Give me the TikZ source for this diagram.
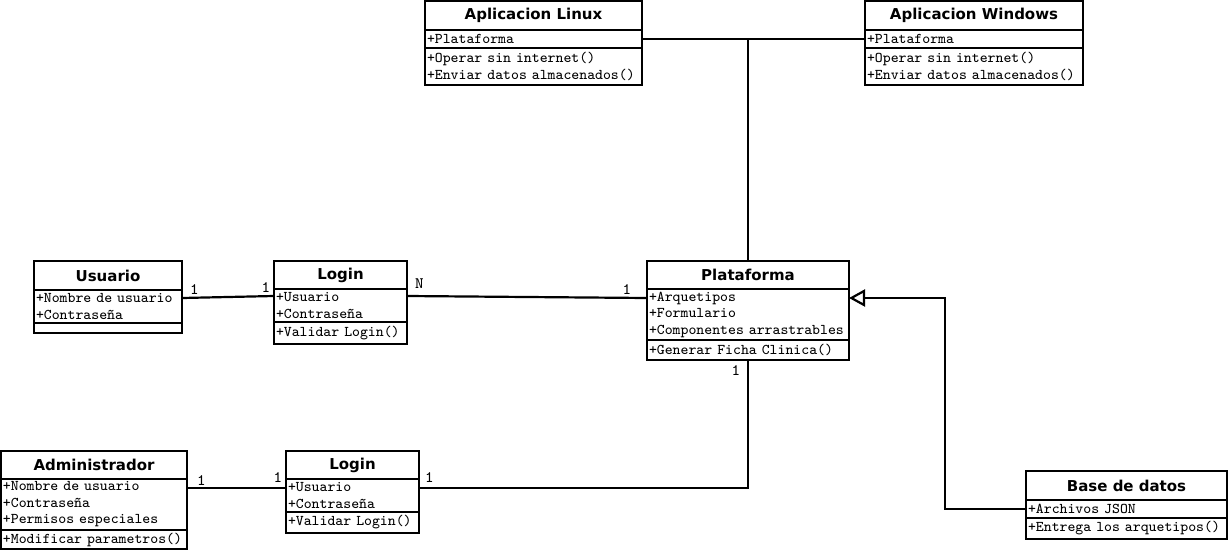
\documentclass[tikz,border=0pt]{standalone}
\usepackage{fontspec}
\newfontfamily\classfont{DejaVu Sans}
\usetikzlibrary{positioning,arrows.meta}

\begin{document}
\begin{tikzpicture}[x=0.5pt, y=-0.5pt,
  every node/.style={outer sep=0pt},
  classname/.style={draw, line width=1.1pt, anchor=north, inner sep=0pt,
    minimum height=14.5pt, font=\classfont\bfseries\fontsize{7.5}{9}\selectfont},
  member/.style={draw, line width=1.1pt, align=left, inner xsep=1pt,
    inner ysep=0.5pt, font=\ttfamily\fontsize{7.45}{8.25}\selectfont},
  conn/.style={line width=1.1pt},
  mult/.style={font=\ttfamily\fontsize{8}{9}\selectfont, inner sep=1pt}]
\useasboundingbox (0,0) rectangle (1229,551);

% clases
\node[classname, minimum width=108.5pt] (linux) at (533.5,1) {Aplicacion Linux};
\node[member, text width=106.5pt, minimum height=9pt, below=0pt of linux] (linuxA) {+Plataforma};
\node[member, text width=106.5pt, minimum height=18.5pt, below=0pt of linuxA] (linuxM)
  {+Operar sin internet()\\+Enviar datos almacenados()};

\node[classname, minimum width=109pt] (windows) at (974,1) {Aplicacion Windows};
\node[member, text width=107pt, minimum height=9pt, below=0pt of windows] (windowsA) {+Plataforma};
\node[member, text width=107pt, minimum height=18.5pt, below=0pt of windowsA] (windowsM)
  {+Operar sin internet()\\+Enviar datos almacenados()};

\node[classname, minimum width=74pt] (usu) at (108,261) {Usuario};
\node[member, text width=72pt, minimum height=16.5pt, below=0pt of usu] (usuA)
  {+Nombre de usuario\\+Contraseña};
\node[member, text width=72pt, minimum height=5pt, below=0pt of usuA] (usuM) {};

\node[classname, minimum width=66.5pt, minimum height=14pt] (login1) at (340.5,261) {Login};
\node[member, text width=64.5pt, minimum height=16.5pt, below=0pt of login1] (login1A)
  {+Usuario\\+Contraseña};
\node[member, text width=64.5pt, minimum height=11pt, below=0pt of login1A] (login1M) {+Validar Login()};

\node[classname, minimum width=101pt, minimum height=14pt] (plat) at (748,261) {Plataforma};
\node[member, text width=99pt, minimum height=25.5pt, below=0pt of plat] (platA)
  {+Arquetipos\\+Formulario\\+Componentes arrastrables};
\node[member, text width=99pt, minimum height=10pt, below=0pt of platA] (platM) {+Generar Ficha Clinica()};

\node[classname, minimum width=93pt, minimum height=14pt] (admin) at (94,451) {Administrador};
\node[member, text width=91pt, minimum height=25.5pt, below=0pt of admin] (adminA)
  {+Nombre de usuario\\+Contraseña\\+Permisos especiales};
\node[member, text width=91pt, minimum height=9.5pt, below=0pt of adminA] (adminM) {+Modificar parametros()};

\node[classname, minimum width=66.5pt, minimum height=14pt] (login2) at (352.5,451) {Login};
\node[member, text width=64.5pt, minimum height=16.5pt, below=0pt of login2] (login2A)
  {+Usuario\\+Contraseña};
\node[member, text width=64.5pt, minimum height=10.5pt, below=0pt of login2A] (login2M) {+Validar Login()};

\node[classname, minimum width=100.5pt] (bd) at (1126.5,471) {Base de datos};
\node[member, text width=98.5pt, minimum height=9pt, below=0pt of bd] (bdA) {+Archivos JSON};
\node[member, text width=98.5pt, minimum height=10.5pt, below=0pt of bdA] (bdM) {+Entrega los arquetipos()};

% relaciones
\draw[conn] (linuxA.east) -- (windowsA.west);
\draw[conn] (plat.north) -- (plat.north |- linuxA.east);
\draw[conn] ([yshift=-4pt]usuA.north east)
  -- node[mult, pos=0, anchor=south west, xshift=3pt, yshift=1pt] {1}
     node[mult, pos=1, anchor=south east, xshift=-1pt, yshift=1pt] {1} ([yshift=-3.5pt]login1A.north west);
\draw[conn] ([yshift=-3.5pt]login1A.north east)
  -- node[mult, pos=0, anchor=south west, xshift=3pt, yshift=3pt] {N}
     node[mult, pos=1, anchor=south east, xshift=-7pt, yshift=1pt] {1} ([yshift=-4.5pt]platA.north west);
\draw[conn] (platM.south)
  |- node[mult, pos=0, anchor=north east, xshift=-3pt, yshift=-2pt] {1}
     node[mult, pos=1, anchor=south west, xshift=2pt, yshift=2pt] {1} ([yshift=-4.5pt]login2A.north east);
\draw[conn] ([yshift=-4.5pt]adminA.north east)
  -- node[mult, pos=0, anchor=south west, xshift=4pt, yshift=0.5pt] {1}
     node[mult, pos=1, anchor=south east, xshift=-1pt, yshift=2pt] {1} ([yshift=-4.5pt]login2A.north west);
\draw[conn, -{Triangle[open, length=8pt, width=8.5pt]}] (bdA.west) -- ++(-81,0)
  |- ([yshift=-4.5pt]platA.north east);
\end{tikzpicture}
\end{document}
